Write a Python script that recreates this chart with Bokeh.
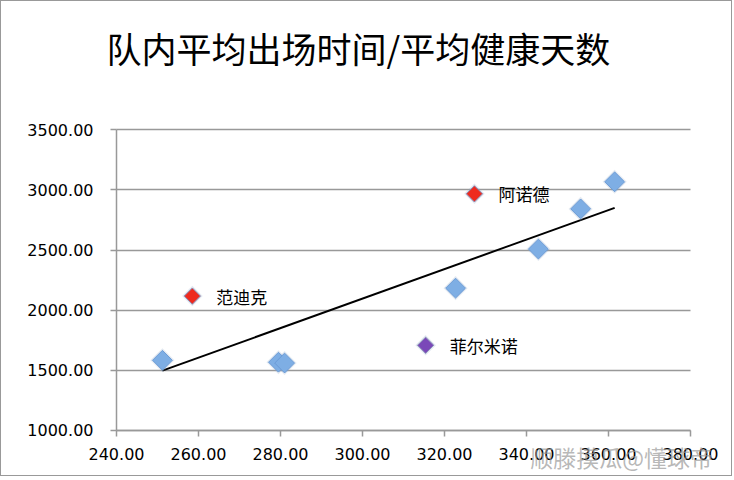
import numpy as np
from bokeh.plotting import figure
from bokeh.models import ColumnDataSource, Range1d, FixedTicker, PrintfTickFormatter, Label
from bokeh.core.properties import value
from bokeh.embed import file_html
from bokeh.resources import INLINE

# average minutes played vs average healthy days
minutes = [251.2, 258.5, 279.5, 281.0, 315.4, 322.7, 327.3, 342.9, 353.2, 361.5]
healthy = [1583, 2117, 1567, 1560, 1708, 2183, 2967, 2508, 2842, 3067]
kinds = ["blue", "red", "blue", "blue", "purple", "blue", "red", "blue", "blue", "blue"]
names = ["", "范迪克", "", "", "菲尔米诺", "", "阿诺德", "", "", ""]

x_ticks = [240, 260, 280, 300, 320, 340, 360, 380]
y_ticks = [1000, 1500, 2000, 2500, 3000, 3500]

title_text = "队内平均出场时间/平均健康天数"
watermark = "顺滕摸瓜@懂球帝"

fill = {"blue": "#7eaee4", "red": "#ee2a1e", "purple": "#7a48b8"}
edge = {"blue": "#6b9bd6", "red": "#8a8fb8", "purple": "#8a8fb8"}
msize = {"blue": 14, "red": 11.5, "purple": 11.5}

# frame covers the whole canvas so that title and watermark are not clipped;
# the axes sit at fixed data positions inside it
x0, x1 = x_ticks[0], x_ticks[-1]
y0, y1 = y_ticks[0], y_ticks[-1]
p = figure(width=732, height=476, output_backend="svg", toolbar_location=None,
           x_range=Range1d(x0 - 115 / 4.1, x1 + 43 / 4.1),
           y_range=Range1d(y0 - 47 / 0.12, y1 + 128 / 0.12),
           min_border=0)
p.styles = {"border": "1px solid #999999"}
p.outline_line_color = None
p.background_fill_color = "white"

p.xgrid.grid_line_color = None
p.ygrid.grid_line_color = "#999999"
p.ygrid.grid_line_width = 1.5
p.ygrid.cross_bounds = (x0, x1)

for ax in (p.xaxis, p.yaxis):
    ax.axis_line_color = "#999999"
    ax.axis_line_width = 1.5
    ax.major_tick_line_color = "#999999"
    ax.major_tick_line_width = 1.5
    ax.major_tick_out = 6
    ax.major_tick_in = 0
    ax.minor_tick_line_color = None
    ax.major_label_text_font = "DejaVu Sans"
    ax.major_label_text_font_size = "16px"
    ax.major_label_text_color = "black"
    ax.formatter = PrintfTickFormatter(format="%.2f")
p.xaxis.ticker = FixedTicker(ticks=x_ticks)
p.yaxis.ticker = FixedTicker(ticks=y_ticks)
p.xaxis.fixed_location = y0
p.yaxis.fixed_location = x0
p.xaxis.bounds = (x0, x1)
p.yaxis.bounds = (y0, y1)
p.xaxis.major_label_standoff = 12
p.yaxis.major_label_standoff = 17

src = ColumnDataSource(dict(
    x=minutes, y=healthy, name=names,
    fill=[fill[k] for k in kinds], edge=[edge[k] for k in kinds],
    size=[msize[k] for k in kinds],
    glow=[msize[k] + 3 for k in kinds],
))

# trend line (least squares)
k, b = np.polyfit(minutes, healthy, 1)
xs = [min(minutes), max(minutes)]
p.line(xs, [k * v + b for v in xs], line_color="black", line_width=2)

# soft shadow then marker
p.scatter("x", "y", source=src, marker="square", angle=np.pi / 4, size="glow",
          fill_color="#8fa6c8", fill_alpha=0.25, line_color=None)
p.scatter("x", "y", source=src, marker="square", angle=np.pi / 4, size="size",
          fill_color="fill", line_color="edge", line_width=1)

p.text("x", "y", text="name", source=src, x_offset=24, text_baseline="middle",
       text_align="left", text_font=value("Noto Sans CJK SC"), text_font_size="17px",
       text_color="black")

p.add_layout(Label(x=299.0, y=4183, text=title_text, text_align="center",
                   text_baseline="middle", text_font="Noto Sans CJK SC",
                   text_font_size="35px", text_color="black"))

p.add_layout(Label(x=363.2, y=775, text=watermark, text_align="center",
                   text_baseline="middle", text_font="Noto Sans CJK SC",
                   text_font_size="23px", text_color="#999999", text_alpha=0.7))

open("out.html", "w").write(file_html(p, INLINE))
